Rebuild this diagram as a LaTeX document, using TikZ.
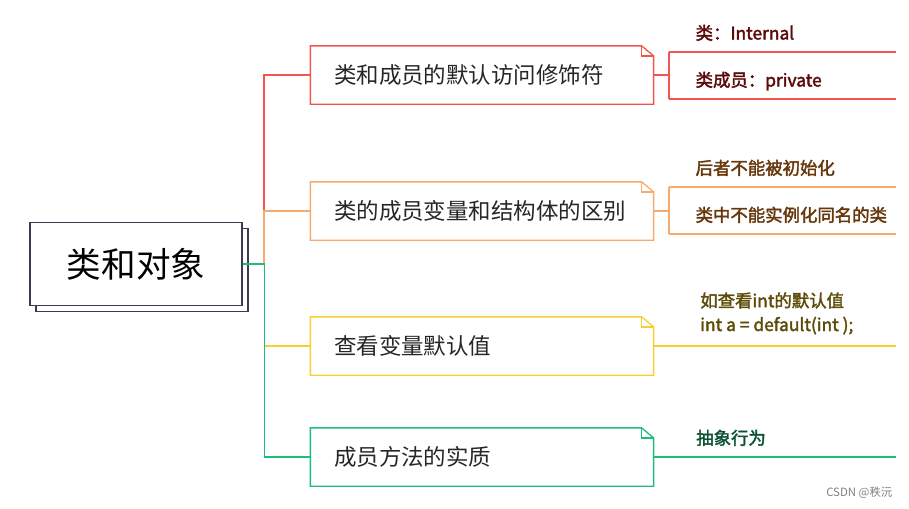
\documentclass[tikz,border=0pt]{standalone}
\usepackage{fontspec}
\setmainfont{Noto Sans CJK SC}
\newfontfamily\leaffont{Noto Sans CJK SC}[FakeBold=2.2]
\usetikzlibrary{positioning, shadows}
\definecolor{lnRed}{RGB}{242,84,80}
\definecolor{txRed}{RGB}{92,10,10}
\definecolor{lnOrange}{RGB}{246,170,110}
\definecolor{txOrange}{RGB}{102,56,12}
\definecolor{lnYellow}{RGB}{246,206,46}
\definecolor{txYellow}{RGB}{92,76,8}
\definecolor{lnGreen}{RGB}{28,190,122}
\definecolor{txGreen}{RGB}{12,82,50}
\definecolor{rootline}{RGB}{58,58,80}

\begin{document}
\begin{tikzpicture}[x=0.02cm, y=-0.02cm, line width=0.75pt,
  topic/.style={minimum height=1.14cm, text width=5.92cm, inner xsep=0.46cm, align=left,
    text=black!85, font=\fontsize{12.8}{15}\selectfont},
  leaf/.style={anchor=base west, inner sep=0pt, align=left, font=\leaffont\fontsize{9.9}{13.6}\selectfont}]

  \useasboundingbox (0,0) rectangle (909,508);

  % root
  \node[draw=rootline, line width=0.85pt, fill=white, minimum width=4.24cm, minimum height=1.66cm,
    copy shadow={shadow xshift=0.12cm, shadow yshift=-0.12cm},
    font=\fontsize{19.7}{22}\selectfont] (root) at (136,264) {类和对象};

  % topics
  \node[topic] (b1) at (482,75) {类和成员的默认访问修饰符};
  \node[topic] (b2) at (482,211) {类的成员变量和结构体的区别};
  \node[topic] (b3) at (482,346) {查看变量默认值};
  \node[topic] (b4) at (482,457) {成员方法的实质};

  \foreach \b/\c in {b1/lnRed, b2/lnOrange, b3/lnYellow, b4/lnGreen}{
    \draw[\c] (\b.south west) -- (\b.north west) -- ([xshift=-0.24cm]\b.north east)
      -- ([yshift=-0.2cm]\b.north east) -- (\b.south east) -- cycle;
    \draw[\c] ([xshift=-0.24cm]\b.north east) |- ([yshift=-0.2cm]\b.north east);
  }

  % trunk
  \draw[lnRed] (b1.west) -| (b2.west -| 264,0);
  \draw[lnOrange] (b2.west) -| (264,264);
  \draw[lnYellow] (b3.west) -- (b3.west -| 264,0);
  \draw[lnGreen] (root.east) -- ++(0.44cm,0) coordinate (j) |- (b4.west);

  % leaves
  \coordinate (edge) at (896,0);
  \coordinate (u11) at (669,52);
  \coordinate (u12) at (669,99);
  \coordinate (u21) at (669,187);
  \coordinate (u22) at (669,234);

  \node[leaf, text=txRed] (l11) at ([shift={(26,-12.5)}]u11) {类：Internal};
  \node[leaf, text=txRed] (l12) at ([shift={(26,-12.5)}]u12) {类成员：private};
  \node[leaf, text=txOrange] (l21) at ([shift={(26,-12.5)}]u21) {后者不能被初始化};
  \node[leaf, text=txOrange] (l22) at ([shift={(26,-12.5)}]u22) {类中不能实例化同名的类};
  \node[leaf, text=txYellow] (l31) at ([shift={(46,-15)}]b3.east) {如查看int的默认值\\int a = default(int );};
  \node[leaf, text=txGreen] (l41) at ([shift={(42,-12.5)}]b4.east) {抽象行为};

  \draw[lnRed] (b1.east) -- (b1.east -| u11);
  \draw[lnRed] (u11) -- (u12);
  \draw[lnRed] (u11) -- (u11 -| edge);
  \draw[lnRed] (u12) -- (u12 -| edge);
  \draw[lnOrange] (b2.east) -- (b2.east -| u21);
  \draw[lnOrange] (u21) -- (u22);
  \draw[lnOrange] (u21) -- (u21 -| edge);
  \draw[lnOrange] (u22) -- (u22 -| edge);
  \draw[lnYellow] (b3.east) -- (b3.east -| edge);
  \draw[lnGreen] (b4.east) -- (b4.east -| edge);

  \node[anchor=east, inner sep=0pt, text=gray, font=\fontsize{6.5}{8}\selectfont] (mark) at (893,493) {CSDN @秩沅};

\end{tikzpicture}
\end{document}
